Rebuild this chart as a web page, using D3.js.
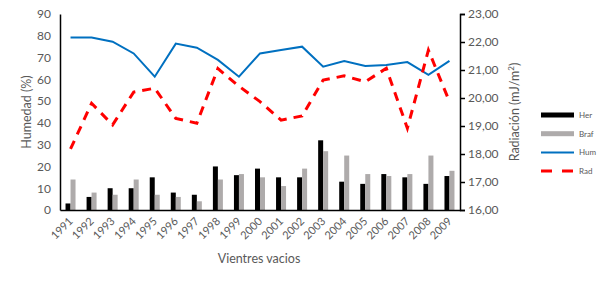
<!DOCTYPE html>
<html>
<head>
<meta charset="utf-8">
<script src="https://cdn.jsdelivr.net/npm/d3@7"></script>
<style>
  body { margin: 0; background: #fff; }
  text { font-family: Lato, "Open Sans", sans-serif; fill: #595959; }
</style>
</head>
<body>
<div id="chart"></div>
<script>
// data
const years = ["1991","1992","1993","1994","1995","1996","1997","1998","1999","2000",
               "2001","2002","2003","2004","2005","2006","2007","2008","2009"];
const her  = [3, 6, 10, 10, 15, 8, 7, 20, 16, 19, 15, 15, 32, 13, 12, 16.5, 15, 12, 15.6];
const braf = [14, 8, 7, 14, 7, 6, 4, 14, 16.5, 15, 11, 19, 27, 25, 16.5, 15.6, 16.5, 25, 18];
const hum  = [79.2, 79.2, 77.3, 71.9, 61.2, 76.4, 74.5, 68.9, 61.2, 71.9,
              73.5, 75, 65.8, 68.4, 66.1, 66.6, 67.9, 62.1, 68.5];
const rad  = [18.18, 19.81, 19.04, 20.21, 20.35, 19.27, 19.10, 21.05, 20.42, 19.87,
              19.21, 19.36, 20.64, 20.79, 20.58, 21.06, 18.92, 21.71, 19.87];
const leftTicks = [0, 10, 20, 30, 40, 50, 60, 70, 80, 90];
const rightTicks = [16, 17, 18, 19, 20, 21, 22, 23];

const W = 612, H = 283;
const margin = { top: 14, right: 152, bottom: 73, left: 60 };
const width = W - margin.left - margin.right,
      height = H - margin.top - margin.bottom;

const svg = d3.select("#chart").append("svg")
    .attr("width", W).attr("height", H);
const g = svg.append("g")
    .attr("transform", `translate(${margin.left},${margin.top})`);

const x = d3.scaleBand().domain(years).range([0, width]);
const yL = d3.scaleLinear().domain([0, 90]).range([height, 0]);
const yR = d3.scaleLinear().domain([16, 23]).range([height, 0]);

const barW = 5;
const cx = d => x(d) + x.bandwidth() / 2;

// bars
g.selectAll(".her").data(years).join("rect")
    .attr("x", (d) => cx(d) - barW)
    .attr("y", (d, i) => yL(her[i]))
    .attr("width", barW)
    .attr("height", (d, i) => height - yL(her[i]))
    .attr("fill", "#000");

g.selectAll(".braf").data(years).join("rect")
    .attr("x", (d) => cx(d))
    .attr("y", (d, i) => yL(braf[i]))
    .attr("width", barW)
    .attr("height", (d, i) => height - yL(braf[i]))
    .attr("fill", "#AEABAB");

// lines
const humLine = d3.line().x((d, i) => cx(years[i])).y(d => yL(d));
const radLine = d3.line().x((d, i) => cx(years[i])).y(d => yR(d));

g.append("path").attr("d", humLine(hum))
    .attr("fill", "none").attr("stroke", "#0070C0").attr("stroke-width", 2);

g.append("path").attr("d", radLine(rad))
    .attr("fill", "none").attr("stroke", "#FF0000").attr("stroke-width", 3)
    .attr("stroke-dasharray", "9,7");

// axes
const axL = g.append("g").call(d3.axisLeft(yL).tickValues(leftTicks).tickSize(0).tickPadding(9));
axL.select(".domain").attr("stroke", "#000").attr("stroke-width", 1.5);
axL.selectAll("text").style("font-size", "12px").attr("fill", "#595959");

const axR = g.append("g").attr("transform", `translate(${width},0)`)
    .call(d3.axisRight(yR).tickValues(rightTicks).tickSize(5).tickPadding(3)
          .tickFormat(d => d3.format(".2f")(d).replace(".", ",")));
axR.select(".domain").attr("stroke", "#000").attr("stroke-width", 1.5);
axR.selectAll("line").attr("stroke", "#000").attr("stroke-width", 1.5);
axR.selectAll("text").style("font-size", "12px").attr("fill", "#595959");

const axB = g.append("g").attr("transform", `translate(0,${height})`)
    .call(d3.axisBottom(x).tickSize(0).tickPadding(0));
axB.select(".domain").attr("stroke", "#000").attr("stroke-width", 1.5);
axB.selectAll("text")
    .style("font-size", "11px").attr("fill", "#595959")
    .attr("text-anchor", "end")
    .attr("dy", "0")
    .attr("transform", "translate(3,12) rotate(-45)");

// titles
svg.append("text")
    .attr("transform", `translate(31,112) rotate(-90)`)
    .attr("text-anchor", "middle")
    .style("font-size", "12.5px")
    .text("Humedad (%)");

const rt = svg.append("text")
    .attr("transform", `translate(519,112) rotate(-90)`)
    .attr("text-anchor", "middle")
    .style("font-size", "12.5px");
rt.append("tspan").text("Radiación (mJ/m");
rt.append("tspan").attr("dy", -5).style("font-size", "8px").text("2");
rt.append("tspan").attr("dy", 5).text(")");

svg.append("text")
    .attr("x", 259).attr("y", 263)
    .attr("text-anchor", "middle")
    .style("font-size", "12.5px")
    .text("Vientres vacios");

// legend
const legend = [
  { name: "Her", type: "bar", color: "#000" },
  { name: "Braf", type: "bar", color: "#AEABAB" },
  { name: "Hum", type: "line", color: "#0070C0" },
  { name: "Rad", type: "dash", color: "#FF0000" }
];
const lg = svg.append("g").attr("transform", "translate(541,115)");
legend.forEach((it, i) => {
  const row = lg.append("g").attr("transform", `translate(0,${i * 18.7})`);
  if (it.type === "bar") {
    row.append("rect").attr("x", 0).attr("y", -2.5).attr("width", 33).attr("height", 5).attr("fill", it.color);
  } else if (it.type === "line") {
    row.append("line").attr("x1", 0).attr("x2", 33).attr("stroke", it.color).attr("stroke-width", 2);
  } else {
    row.append("line").attr("x1", 0).attr("x2", 33).attr("stroke", it.color).attr("stroke-width", 3)
       .attr("stroke-dasharray", "11,10");
  }
  row.append("text").attr("x", 38).attr("y", 3).style("font-size", "8px").text(it.name);
});
</script>
</body>
</html>
